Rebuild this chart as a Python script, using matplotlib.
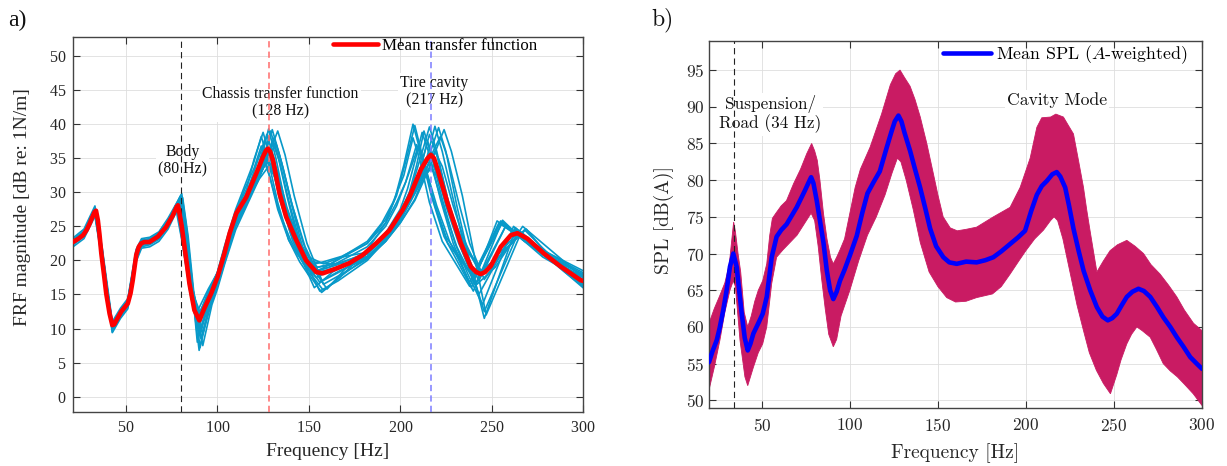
import matplotlib
matplotlib.use("Agg")
import matplotlib.pyplot as plt

plt.rcParams['lines.scale_dashes'] = False
plt.rcParams['mathtext.fontset'] = 'cm'
plt.rcParams['axes.formatter.use_mathtext'] = True

# ---------------- Panel a) FRF data ----------------
mean_f = [21, 24, 26.5, 28.5, 30.1, 31.5, 32.8, 33.6, 34.6, 35.5, 36.5, 38, 39.2, 41, 42.5, 43.5, 44.7,
          47.4, 49.5, 51, 52.5, 53.7, 55.6, 57, 58.3, 60, 62.8, 67.4, 71.9, 75.6, 77.8, 78.4, 79.2, 80.5,
          82, 84.7, 87.4, 90.1, 92.9, 96.5, 100.1, 103.8, 106.7, 110.3, 115.8, 121.3, 124.9, 126.5, 127.6,
          128.8, 130.4, 134, 137.6, 143.1, 148.5, 154, 157.6, 164.9, 172.2, 179.5, 186.8, 194, 201.3, 205,
          211.4, 215, 216.8, 218.5, 220.5, 225.9, 233.2, 238.6, 241.5, 244.1, 246.5, 249.6, 255, 260.5,
          264.1, 269.6, 278.7, 287.8, 298.7, 300]
mean_db = [22.7, 23.2, 23.7, 24.5, 25.4, 26.3, 27.1, 27.3, 25.9, 23.8, 21.0, 17.8, 15.1, 12.2, 10.5, 10.6, 11.2,
           12.5, 13.2, 13.7, 15.2, 17.1, 20.8, 22.0, 22.5, 22.7, 22.7, 23.5, 24.9, 26.6, 27.9, 28.1, 27.0, 25.0,
           22.0, 16.6, 12.7, 11.2, 13.0, 15.1, 17.6, 21.0, 24.0, 26.9, 29.3, 32.8, 35.2, 36.1, 36.4,
           36.0, 34.7, 29.8, 26.4, 23.0, 20.0, 18.3, 18.1, 18.8, 19.6, 20.8, 22.5, 24.4, 27.4, 29.3,
           33.4, 35.0, 35.5, 35.0, 33.3, 28.4, 22.5, 19.1, 18.3, 18.0, 18.3, 19.2, 22.0, 23.7,
           24.0, 23.2, 21.0, 19.1, 17.1, 17.0]

c1_f = [21, 27, 33, 37, 42.5, 47, 51, 55.5, 58.5, 63, 68, 73, 79, 82.5, 85.5, 90, 95, 100, 104, 110, 116, 120, 125, 129, 134, 140, 146, 152, 162, 182, 192, 198, 203, 208, 212, 218, 225, 240, 255, 268, 278, 289, 300]
c1_db = [22.9, 24.1, 27.6, 21.0, 10.2, 12.5, 13.9, 21.0, 22.8, 23.0, 23.8, 25.8, 28.8, 23.0, 17.0, 11.8, 15.5, 18.2, 22.0, 27.2, 30.5, 34.8, 38.8, 35.0, 29.0, 24.0, 20.6, 18.8, 19.5, 22.5, 26.0, 29.5, 34.5, 39.8, 35.5, 29.0, 23.5, 17.5, 25.8, 23.0, 21.5, 19.8, 18.2]
c2_f = [21, 27, 33, 37, 42.5, 47, 51, 55.5, 58.5, 63, 68, 73, 80, 83, 86, 89, 94, 100, 104, 110, 116, 125, 130, 134, 139, 145, 150, 156, 166, 182, 192, 200, 208, 216, 221, 225, 231, 238, 246, 263, 270, 280, 290, 300]
c2_db = [22.5, 23.8, 27.2, 20.8, 10.0, 12.0, 13.5, 20.3, 22.4, 22.6, 23.5, 25.6, 29.5, 24.0, 16.5, 8.0, 13.0, 17.0, 20.5, 25.8, 29.0, 34.5, 39.2, 35.5, 30.0, 23.5, 18.8, 15.5, 17.0, 20.0, 23.0, 26.0, 30.0, 35.5, 39.5, 36.0, 28.0, 20.0, 11.5, 24.5, 22.8, 20.5, 18.5, 16.5]
c3_f = [21, 27, 33, 37, 42.5, 47, 51, 55.5, 58.5, 63, 68, 73, 78, 81.5, 85, 91, 96, 100, 104, 110, 116, 123, 128, 132, 137, 144, 150, 158, 168, 182, 192, 200, 206, 211, 215, 219, 225, 232, 242, 252, 267, 278, 289, 300]
c3_db = [22.7, 23.9, 27.3, 20.6, 10.5, 12.4, 13.8, 20.8, 22.6, 22.8, 23.6, 25.5, 28.3, 22.5, 15.5, 9.5, 14.5, 17.5, 21.0, 26.3, 29.2, 33.0, 36.5, 33.5, 28.0, 23.0, 20.5, 19.5, 20.5, 21.2, 23.5, 26.5, 29.5, 33.5, 37.5, 34.0, 28.0, 22.5, 16.5, 19.0, 25.0, 22.5, 20.0, 17.5]
c4_f = [21, 27, 33, 37, 42.5, 47, 51, 55.5, 58.5, 63, 68, 73, 78, 82, 85, 90, 96, 100, 104, 110, 116, 122, 127, 131, 136, 143, 150, 160, 170, 182, 192, 200, 208, 214, 218, 222, 228, 234, 244, 254, 266, 278, 289, 300]
c4_db = [22.6, 23.8, 27.0, 20.3, 10.7, 12.2, 13.6, 20.5, 22.4, 22.6, 23.4, 25.2, 27.8, 22.0, 16.3, 12.3, 15.2, 17.3, 20.7, 26.0, 29.0, 32.0, 34.5, 32.8, 27.5, 22.5, 18.0, 18.6, 19.3, 21.0, 23.5, 26.3, 30.5, 33.0, 34.0, 32.0, 27.0, 23.0, 18.5, 20.5, 24.2, 21.5, 19.3, 17.2]
c5_f = [21, 27, 33, 37, 42.5, 47, 51, 55.5, 58.5, 63, 68, 73, 81, 84, 87, 92, 97, 100, 104, 110, 116, 122, 128, 133, 137, 142, 149, 158, 168, 182, 192, 200, 208, 215, 220, 224, 228, 234, 247, 266, 278, 289, 300]
c5_db = [22.4, 23.6, 26.9, 21.2, 9.8, 11.9, 13.3, 20.0, 22.2, 22.5, 23.3, 25.0, 29.2, 23.5, 15.5, 7.5, 13.5, 15.8, 19.5, 24.5, 28.0, 31.5, 35.5, 39.0, 35.5, 29.5, 22.5, 16.5, 18.0, 20.2, 22.8, 25.5, 28.8, 33.0, 36.5, 39.2, 36.0, 29.5, 12.0, 24.0, 21.0, 18.5, 16.2]
c6_f = [21, 27, 33, 37, 42.5, 47, 51, 55.5, 58.5, 63, 68, 73, 79, 82.5, 85.5, 89, 95, 100, 104, 110, 116, 121, 126, 130, 135, 141, 147, 154, 164, 182, 192, 200, 204, 208, 212, 216, 222, 229, 239, 253, 265, 278, 289, 300]
c6_db = [22.8, 24.0, 27.4, 21.3, 10.4, 12.6, 14.0, 21.2, 22.9, 23.1, 23.9, 25.9, 28.5, 22.5, 16.0, 10.5, 14.8, 17.8, 21.5, 26.8, 30.0, 33.8, 37.8, 34.2, 28.5, 23.0, 19.5, 17.5, 18.8, 21.0, 24.0, 27.5, 30.5, 34.5, 38.8, 35.5, 29.0, 22.5, 16.0, 25.8, 23.5, 21.3, 19.5, 17.8]
c7_f = [21, 27, 33, 37, 42.5, 47, 51, 55.5, 58.5, 63, 68, 73, 77, 81, 84.5, 90, 96, 100, 104, 110, 116, 124, 129, 133, 138, 145, 150, 155, 165, 182, 192, 200, 208, 214, 219, 223, 229, 235, 244, 256, 268, 278, 289, 300]
c7_db = [22.7, 23.9, 27.1, 20.7, 10.6, 12.4, 13.7, 20.6, 22.5, 22.7, 23.5, 25.6, 28.0, 22.3, 16.5, 11.0, 14.7, 17.4, 20.9, 26.2, 29.1, 33.0, 35.5, 33.0, 27.8, 22.5, 20.0, 18.5, 19.3, 21.2, 23.6, 26.5, 30.0, 33.5, 36.0, 33.8, 28.0, 23.0, 17.8, 21.0, 24.5, 21.8, 19.0, 16.8]
c8_f = [21, 27, 33, 37, 42.5, 47, 51, 55.5, 58.5, 63, 68, 73, 80, 83, 86, 90, 95, 100, 104, 110, 116, 122, 126, 131, 135, 140, 147, 153, 160, 170, 182, 192, 200, 206, 211, 216, 220, 226, 233, 243, 258, 270, 280, 290, 300]
c8_db = [22.6, 23.9, 27.3, 21.1, 10.1, 12.1, 13.6, 20.4, 22.5, 22.7, 23.6, 25.5, 29.0, 23.8, 16.2, 9.0, 13.8, 16.8, 20.3, 25.6, 28.7, 32.0, 34.5, 38.0, 34.5, 29.0, 22.5, 18.5, 15.8, 18.8, 21.0, 23.8, 27.0, 30.5, 35.0, 39.6, 36.0, 29.0, 23.0, 17.0, 25.2, 22.5, 20.5, 19.0, 17.5]
c9_f = [21, 27, 33, 37, 42.5, 47, 51, 55.5, 58.5, 63, 68, 73, 78, 81.5, 85, 89, 95, 100, 104, 110, 115, 120, 124, 128, 133, 139, 144, 149, 158, 168, 182, 192, 198, 203, 207, 210, 214, 220, 227, 238, 254, 266, 278, 289, 300]
c9_db = [22.8, 24.0, 27.5, 21.0, 10.3, 12.6, 14.0, 21.0, 22.7, 22.9, 23.9, 25.9, 28.2, 22.8, 16.5, 11.5, 15.3, 18.0, 21.8, 27.0, 30.5, 33.5, 36.8, 33.0, 27.5, 23.0, 20.8, 19.2, 19.8, 20.6, 22.5, 25.5, 28.5, 31.5, 34.5, 36.8, 33.5, 28.0, 22.8, 16.8, 25.5, 23.3, 21.5, 20.0, 18.5]
c10_f = [21, 27, 33, 37, 42.5, 47, 51, 55.5, 58.5, 63, 68, 73, 78, 82, 85.5, 91, 96, 100, 104, 110, 116, 123, 128, 132, 137, 144, 152, 162, 172, 182, 192, 200, 208, 213, 217, 221, 227, 234, 245, 254, 264, 278, 289, 300]
c10_db = [22.5, 23.7, 26.8, 20.2, 10.8, 12.1, 13.5, 20.3, 22.3, 22.5, 23.3, 25.1, 27.6, 22.2, 16.0, 12.0, 15.0, 17.2, 20.5, 25.8, 28.8, 32.0, 33.8, 32.0, 27.5, 23.0, 19.8, 19.5, 19.6, 20.6, 22.8, 25.8, 29.8, 32.3, 33.5, 32.0, 27.0, 22.5, 18.0, 21.0, 24.0, 20.8, 18.8, 16.6]
c11_f = [21, 27, 33, 37, 42.5, 47, 51, 55.5, 58.5, 63, 68, 73, 80, 83, 86, 90, 95, 100, 104, 110, 116, 123, 128, 132, 137, 143, 150, 157, 167, 182, 192, 197, 202, 207, 211, 217, 224, 240, 256, 268, 278, 289, 300]
c11_db = [22.5, 23.8, 27.2, 21.4, 9.5, 11.8, 13.3, 20.2, 22.3, 22.6, 23.4, 25.4, 29.6, 24.2, 15.8, 6.8, 12.8, 16.5, 20.0, 25.2, 28.5, 34.0, 39.3, 35.0, 28.5, 22.5, 18.0, 15.3, 17.5, 21.5, 25.5, 29.0, 34.0, 40.0, 36.0, 29.5, 23.5, 15.5, 25.9, 22.8, 20.5, 18.8, 17.0]
c12_f = [21, 27, 33, 37, 42.5, 47, 51, 55.5, 58.5, 63, 68, 73, 79, 82.5, 86, 91, 96, 100, 104, 110, 116, 122, 127, 132, 136, 141, 148, 157, 167, 182, 192, 200, 208, 214, 218, 222, 226, 232, 238, 246, 257, 269, 280, 290, 300]
c12_db = [22.6, 23.8, 27.0, 20.9, 10.2, 12.3, 13.7, 20.7, 22.5, 22.7, 23.6, 25.6, 28.6, 23.0, 15.5, 10.0, 14.2, 16.8, 20.2, 25.5, 28.5, 31.8, 34.8, 37.2, 33.5, 28.0, 22.0, 17.0, 18.5, 20.3, 22.8, 25.5, 29.0, 33.0, 36.0, 38.2, 35.0, 28.5, 22.5, 17.2, 21.5, 24.6, 21.0, 18.3, 16.0]
c13_f = [21, 27, 33, 37, 42.5, 47, 51, 55.5, 58.5, 63, 68, 73, 79.5, 83, 86, 91, 96, 100, 104, 110, 116, 122, 127, 131, 136, 142, 148, 153, 163, 182, 192, 200, 205, 209, 213, 217, 223, 230, 237, 245, 262, 272, 282, 291, 300]
c13_db = [23.3, 24.6, 28.0, 21.8, 11.0, 13.0, 14.4, 21.6, 23.2, 23.4, 24.2, 26.2, 29.3, 23.5, 16.0, 8.5, 13.5, 16.8, 20.4, 25.8, 29.0, 33.5, 38.5, 35.0, 29.0, 23.0, 19.0, 16.0, 18.3, 21.0, 23.8, 27.0, 30.0, 34.0, 39.0, 35.5, 29.0, 22.5, 18.0, 13.5, 25.0, 22.8, 20.5, 18.7, 17.0]
c14_f = [21, 27, 33, 37, 42.5, 47, 51, 55.5, 58.5, 63, 68, 73, 78, 81.5, 85, 89.5, 95, 100, 104, 110, 116, 121, 125, 129, 134, 140, 146, 151, 161, 182, 192, 198, 203, 209, 213, 219, 226, 240, 256, 268, 278, 289, 300]
c14_db = [22.0, 23.2, 26.5, 19.8, 9.4, 11.5, 12.9, 19.8, 21.8, 22.0, 22.8, 24.6, 27.4, 21.5, 15.3, 9.8, 14.5, 17.6, 21.2, 26.5, 29.8, 32.8, 35.0, 32.0, 27.0, 23.0, 20.0, 18.3, 19.0, 22.0, 25.0, 28.0, 31.5, 37.0, 34.0, 28.0, 22.5, 17.6, 25.6, 22.8, 21.0, 19.5, 18.0]
c15_f = [21, 27, 33, 37, 42.5, 47, 51, 55.5, 58.5, 63, 68, 73, 80.5, 83.5, 86.5, 90.5, 95, 100, 104, 110, 116, 124, 129, 133, 138, 144, 151, 158, 168, 182, 192, 200, 208, 214, 219, 223, 229, 236, 246, 265, 278, 289, 300]
c15_db = [23.1, 24.3, 27.7, 21.6, 10.0, 12.8, 14.2, 21.3, 23.0, 23.2, 24.0, 25.9, 29.8, 24.0, 16.0, 7.2, 12.5, 16.3, 19.8, 25.0, 28.3, 33.5, 39.0, 35.5, 29.5, 23.0, 18.0, 15.6, 17.8, 20.5, 23.0, 26.0, 30.0, 34.5, 39.7, 36.0, 29.0, 21.0, 12.5, 24.3, 21.0, 18.7, 16.4]
c16_f = [21, 27, 33, 37, 42.5, 47, 51, 55.5, 58.5, 63, 68, 73, 78.5, 82, 85, 89, 95, 100, 104, 110, 116, 121, 126, 130, 135, 142, 148, 155, 165, 182, 192, 200, 206, 210, 214, 218, 224, 231, 241, 258, 270, 280, 290, 300]
c16_db = [22.3, 23.5, 26.8, 20.1, 9.9, 11.8, 13.2, 20.1, 22.0, 22.3, 23.1, 25.0, 28.0, 22.3, 16.5, 12.5, 15.8, 18.2, 21.5, 26.6, 29.6, 32.5, 36.0, 33.5, 28.5, 23.0, 20.2, 19.0, 19.5, 21.0, 23.5, 26.5, 29.5, 32.5, 35.0, 33.0, 27.5, 22.0, 16.5, 25.2, 22.6, 20.6, 19.0, 17.6]
c17_f = [21, 27, 33, 37, 42.5, 47, 51, 55.5, 58.5, 63, 68, 73, 80, 83.5, 87, 92, 97, 100, 104, 110, 116, 124, 130, 134, 139, 145, 150, 156, 166, 182, 192, 200, 206, 211, 216, 220, 226, 233, 243, 263, 275, 287, 300]
c17_db = [22.9, 24.2, 27.5, 21.2, 10.8, 12.7, 14.1, 21.1, 22.9, 23.1, 23.9, 25.8, 29.0, 23.3, 15.0, 9.2, 14.0, 16.2, 19.8, 25.3, 28.6, 33.0, 37.5, 34.5, 28.8, 22.8, 19.0, 16.8, 18.2, 20.6, 23.2, 26.2, 29.5, 33.5, 38.5, 35.5, 29.0, 22.0, 15.0, 24.8, 22.0, 19.5, 16.9]
c18_f = [21, 27, 33, 37, 42.5, 47, 51, 55.5, 58.5, 63, 68, 73, 79, 82.5, 85.5, 90, 95, 100, 104, 110, 115, 120, 124, 128, 133, 139, 145, 150, 160, 182, 190, 196, 202, 207, 211, 216, 223, 238, 255, 267, 278, 289, 300]
c18_db = [22.5, 23.7, 27.1, 20.6, 10.1, 12.3, 13.6, 20.6, 22.4, 22.6, 23.5, 25.5, 28.4, 22.6, 16.2, 10.8, 15.0, 18.3, 22.2, 27.5, 31.0, 34.5, 38.2, 34.5, 28.5, 23.0, 19.8, 17.8, 19.2, 22.8, 25.5, 28.5, 32.5, 38.0, 34.5, 28.5, 22.8, 16.2, 25.7, 23.0, 21.2, 19.6, 17.9]

cyan_curves = [(c1_f, c1_db), (c2_f, c2_db), (c3_f, c3_db), (c4_f, c4_db), (c5_f, c5_db), (c6_f, c6_db),
               (c7_f, c7_db), (c8_f, c8_db), (c9_f, c9_db), (c10_f, c10_db), (c11_f, c11_db), (c12_f, c12_db),
               (c13_f, c13_db), (c14_f, c14_db), (c15_f, c15_db), (c16_f, c16_db), (c17_f, c17_db), (c18_f, c18_db)]

# ---------------- Panel b) SPL data ----------------
spl_f = [20, 22, 24.4, 26, 28.1, 30, 31.9, 33.8, 35.7, 37, 38.6, 40.3, 42, 43.5, 45.2, 48, 50.5, 52.8, 54.3,
         55.6, 58.4, 61, 64.1, 69.8, 74.5, 76.8, 78, 79.3, 81.2, 83, 85, 86.9, 88.8, 90.6, 92.5, 94.4, 97,
         100.1, 103.9, 107, 110, 113.4, 117, 121, 123.5, 125.5, 127.6, 129.3, 131, 134.2, 137, 139.9, 142.8,
         145.6, 149, 153.1, 156.5, 160.7, 166, 172, 177, 181.5, 186, 191, 195.5, 199.5, 203, 206.2, 209,
         211.9, 215, 217.5, 219.5, 222.3, 224.5, 227, 230, 232.7, 236.5, 240.3, 243.5, 246.5, 249, 251.6,
         254.5, 257.3, 260.5, 263.9, 267, 270.6, 274.5, 278.1, 282, 285.7, 289.5, 293.3, 297, 300]
spl_db = [55.2, 56.7, 58.2, 59.8, 62.3, 65.0, 68.2, 70.0, 68.2, 65.3, 61.8, 58.5, 56.8, 57.7, 59.1, 60.5, 61.8, 64.1, 67.0,
          69.5, 72.3, 73.2, 74.0, 76.3, 78.6, 79.8, 80.4, 79.6, 77.2, 74.5, 71.5, 67.7, 65.0, 63.8, 64.8, 66.3, 67.8,
          69.8, 72.4, 75.5, 78.2, 79.7, 81.2, 84.5, 86.5, 88.0, 88.8, 88.0, 86.5, 84.0, 81.5, 79.0, 76.2,
          73.4, 71.0, 69.5, 68.8, 68.6, 68.9, 68.8, 69.1, 69.5, 70.3, 71.3, 72.2, 73.1, 75.8, 78.0, 79.2,
          79.9, 80.8, 81.1, 80.5, 79.0, 76.5, 73.4, 70.3, 67.7, 65.0, 62.7, 61.4, 60.9, 61.2, 61.8,
          63.0, 64.1, 64.8, 65.2, 64.9, 64.1, 62.7, 61.3, 60.0, 58.6, 57.3, 55.9, 55.0, 54.3]

band_up_f = [20, 23, 26, 29, 31.5, 33, 34, 35, 36.5, 38, 40, 42, 44, 46, 48, 50.5, 52.8, 54.5, 56, 58, 61, 64,
             68, 72, 75.5, 78.3, 80, 81.5, 83, 85, 87, 89, 90.6, 92.5, 94.4, 97, 100, 103, 106, 111.5, 118, 123,
             126, 128.5, 131, 134.2, 137, 140, 143.7, 147.5, 150, 153, 157, 161, 166, 172, 181.5, 191, 196.7,
             202.4, 206.2, 209, 214, 217, 221.3, 224, 227, 230, 232.7, 234.5, 236.5, 240.3, 244, 247.8, 252,
             257.3, 262, 266.8, 271, 276.2, 281, 285.7, 290, 295.2, 300]
band_up_db = [60.5, 62.5, 64.2, 66.0, 68.5, 72.0, 74.3, 73.0, 70.0, 67.5, 62.0, 60.0, 61.5, 63.5, 65.0, 66.3, 68.6, 72.5, 74.8, 75.5, 76.5, 77.2,
              79.5, 81.5, 83.6, 85.0, 84.0, 82.7, 80.0, 75.5, 72.0, 69.5, 68.6, 69.5, 70.5, 72.0, 75.5, 79.0, 81.5, 84.5, 89.0, 93.0,
              94.5, 95.0, 94.0, 92.8, 91.0, 88.6, 85.0, 80.8, 78.0, 75.0, 73.5, 73.1, 73.3, 73.6, 75.0, 76.3, 79.0,
              83.0, 87.2, 88.5, 88.6, 89.0, 88.6, 87.5, 86.3, 82.5, 79.0, 76.0, 73.0, 67.5, 69.0, 70.4, 71.2,
              71.8, 71.0, 70.0, 68.5, 67.2, 65.7, 64.1, 62.3, 60.5, 59.5]
band_lo_f = [20, 23, 26.2, 29, 31.9, 33.8, 35, 37.6, 40.4, 42, 45.2, 48, 50.5, 52.8, 55.6, 58.4, 62, 66, 70, 74,
             78, 80, 82, 84, 86, 88, 90.6, 92.5, 95, 100, 105, 110, 115, 120, 124, 127, 129, 132, 136, 140, 145,
             150, 155, 160, 166, 172, 181, 186, 191, 196, 200, 205, 210, 214, 216, 218, 221, 225, 229, 232.7,
             236, 240, 244, 248, 251.6, 254, 257.3, 260, 263, 266, 270.6, 274, 278, 282, 286, 290, 295, 300]
band_lo_db = [51.4, 54.5, 58.2, 62.0, 65.0, 66.3, 65.5, 58.2, 53.2, 52.0, 54.5, 56.5, 57.7, 60.0, 65.9, 69.5, 70.5, 71.5, 72.5, 74.0,
              75.5, 74.5, 71.0, 66.5, 62.5, 59.0, 57.3, 58.3, 61.5, 65.0, 69.0, 72.5, 75.0, 78.0, 81.0, 83.0, 82.5, 80.0, 76.0, 71.5, 67.5,
              65.5, 64.0, 63.4, 63.5, 64.0, 64.5, 65.5, 67.2, 69.0, 70.4, 72.0, 73.2, 74.5, 75.0, 74.5, 72.0, 67.5, 63.0, 59.5,
              56.5, 54.1, 52.3, 50.9, 53.5, 55.5, 57.7, 59.0, 60.0, 59.5, 58.6, 57.0, 55.0, 54.0, 53.2, 52.2, 50.9, 49.3]

freq_ticks = [50, 100, 150, 200, 250, 300]
frf_ticks = [0, 5, 10, 15, 20, 25, 30, 35, 40, 45, 50]
spl_ticks = [50, 55, 60, 65, 70, 75, 80, 85, 90, 95]

SERIF = 'Liberation Serif'
CM = 'cmr10'

fig = plt.figure(figsize=(12.27, 4.66), dpi=100)
W, H = 1227.0, 466.0
axL = fig.add_axes([73 / W, 1 - 412 / H, 510 / W, 375 / H])
axR = fig.add_axes([709 / W, 1 - 407.7 / H, 493 / W, 367 / H])


def style(ax, fam, tsize, xpad, ypad):
    ax.grid(True, color='#dedede', lw=0.6)
    ax.set_axisbelow(True)
    ax.tick_params(direction='in', top=True, right=True, length=5, width=0.8,
                   color='#333333', labelcolor='#262626', labelsize=tsize,
                   labelfontfamily=fam)
    ax.tick_params(axis='x', pad=xpad)
    ax.tick_params(axis='y', pad=ypad)
    for s in ax.spines.values():
        s.set_color('#444444')
        s.set_linewidth(1.0)


# ---------------- Left ----------------
for f, d in cyan_curves:
    axL.plot(f, d, color='#0899C9', lw=1.2, zorder=2)
dash = (0, (4.5, 3))
axL.axvline(80, color='#222222', ls=dash, lw=0.8, zorder=3)
axL.axvline(128, color='#FF6B6B', ls=dash, lw=1.1, zorder=3)
axL.axvline(217, color='#7C7CFF', ls=dash, lw=1.1, zorder=3)
axL.plot(mean_f, mean_db, color='#FF0000', lw=3.3, zorder=4, label='Mean transfer function',
         solid_joinstyle='round', solid_capstyle='round')

tb = dict(facecolor='white', edgecolor='none', pad=1.5)
axL.text(81, 34.6, 'Body\n(80 Hz)', ha='center', va='center', fontsize=11.3, family=SERIF,
         linespacing=1.1, bbox=tb, zorder=2.5, color='#111111')
axL.text(134.5, 43.1, 'Chassis transfer function\n(128 Hz)', ha='center', va='center', fontsize=11.3,
         family=SERIF, linespacing=1.1, bbox=tb, zorder=2.5, color='#111111')
axL.text(218.6, 44.8, 'Tire cavity\n(217 Hz)', ha='center', va='center', fontsize=11.3, family=SERIF,
         linespacing=1.1, bbox=tb, zorder=2.5, color='#111111')

axL.set_xlim(21, 300)
axL.set_ylim(-2.25, 52.8)
axL.set_xticks(freq_ticks)
axL.set_yticks(frf_ticks)
style(axL, SERIF, 11.5, 6, 5)
axL.set_xlabel('Frequency [Hz]', fontsize=14, family=SERIF, color='#262626')
axL.set_ylabel('FRF magnitude [dB re: 1N/m]', fontsize=14, family=SERIF, color='#262626')
axL.xaxis.set_label_coords(0.5, -0.083)
axL.yaxis.set_label_coords(-0.082, 0.547)
axL.legend(loc='upper right', bbox_to_anchor=((537 - 73) / 510, 0.997), frameon=False,
           borderpad=0, borderaxespad=0, handlelength=2.6, handletextpad=0.25,
           prop={'family': SERIF, 'size': 12.2})

# ---------------- Right ----------------
poly_f = list(band_up_f) + list(band_lo_f[::-1])
poly_db = list(band_up_db) + list(band_lo_db[::-1])
axR.fill(poly_f, poly_db, color='#C91B63', lw=0.6, zorder=2)
axR.axvline(34, color='#222222', ls=dash, lw=0.8, zorder=3)
axR.plot(spl_f, spl_db, color='#0000FF', lw=3.3, zorder=4, label=r'Mean SPL ($A$-weighted)',
         solid_joinstyle='round', solid_capstyle='round')

axR.text(54.7, 89.0, 'Suspension/\nRoad (34 Hz)', ha='center', va='center', fontsize=12.4, family=CM,
         linespacing=1.15, bbox=tb, zorder=2.5, color='#111111')
axR.text(217.7, 90.9, 'Cavity Mode', ha='center', va='center', fontsize=12.7, family=CM,
         bbox=tb, zorder=2.5, color='#111111')

axR.set_xlim(20, 300)
axR.set_ylim(49, 99)
axR.set_xticks(freq_ticks)
axR.set_yticks(spl_ticks)
style(axR, CM, 12.5, 7, 3.5)
axR.set_xlabel('Frequency [Hz]', fontsize=14, family=CM, color='#262626')
axR.set_ylabel('SPL [dB(A)]', fontsize=14, family=CM, color='#262626')
axR.xaxis.set_label_coords(0.5, -0.096)
axR.yaxis.set_label_coords(-0.071, 0.511)
axR.legend(loc='upper right', bbox_to_anchor=((1188 - 709) / 493, 0.993), frameon=False,
           borderpad=0, borderaxespad=0, handlelength=2.68, handletextpad=0.3,
           prop={'family': CM, 'size': 12.9})

fig.text(8 / W, 1 - 20 / H, 'a)', ha='left', va='center', fontsize=17, family=SERIF, color='#111111')
fig.text(651 / W, 1 - 20 / H, 'b)', ha='left', va='center', fontsize=17, family=CM, color='#111111')

fig.savefig('out.png', dpi=100)
